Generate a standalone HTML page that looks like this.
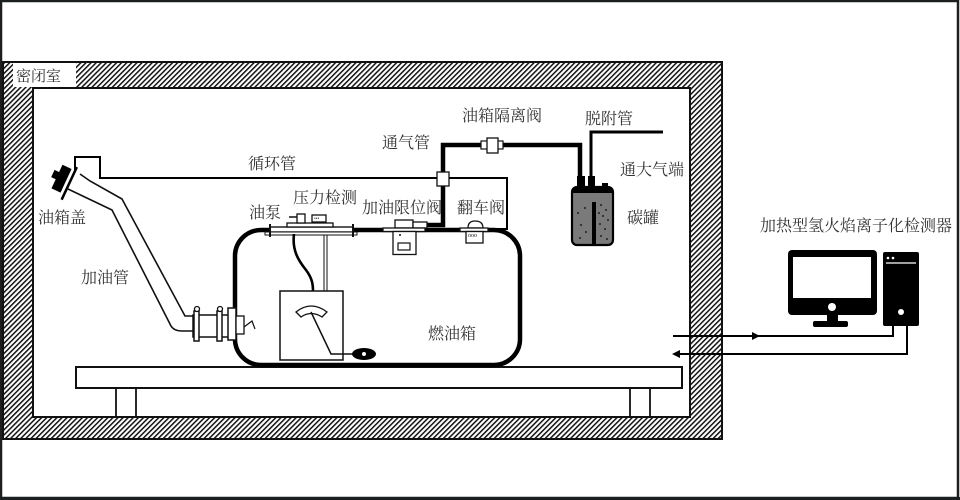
<!DOCTYPE html>
<html><head><meta charset="utf-8"><style>
html,body{margin:0;padding:0;background:#fff;}
svg{display:block;}
text{font-family:"Liberation Serif","Noto Serif CJK SC","Noto Sans CJK SC",serif;font-size:16px;fill:#333;}
</style></head><body>
<svg width="960" height="500" viewBox="0 0 960 500" xmlns="http://www.w3.org/2000/svg">
<defs>
<pattern id="h" width="3.6" height="3.6" patternUnits="userSpaceOnUse" patternTransform="rotate(45)">
<rect width="3.6" height="3.6" fill="#fff"/><rect width="1.5" height="3.6" fill="#111"/>
</pattern>
</defs>
<rect x="0" y="0" width="960" height="500" fill="#fff"/>
<!-- page frame -->
<rect x="1" y="1" width="957" height="497" fill="none" stroke="#1c1f1f" stroke-width="2.5"/>
<line x1="0" y1="498.5" x2="960" y2="498.5" stroke="#1c1f1f" stroke-width="3"/>

<!-- hatched room walls -->
<path d="M3,62 H722 V439 H3 Z M33,88 V417 H690 V88 Z" fill="url(#h)" fill-rule="evenodd"/>
<rect x="3" y="62" width="719" height="377" fill="none" stroke="#111" stroke-width="2"/>
<rect x="33" y="88" width="657" height="329" fill="none" stroke="#111" stroke-width="2"/>
<rect x="13" y="63" width="63" height="24" fill="#fff"/>
<text x="16" y="81" style="font-size:15px">密闭室</text>

<!-- table -->
<rect x="76" y="367" width="606" height="21" fill="#fff" stroke="#111" stroke-width="2"/>
<line x1="116" y1="388" x2="116" y2="417" stroke="#111" stroke-width="1.8"/>
<line x1="136" y1="388" x2="136" y2="417" stroke="#111" stroke-width="1.8"/>
<line x1="630" y1="388" x2="630" y2="417" stroke="#111" stroke-width="1.8"/>
<line x1="650" y1="388" x2="650" y2="417" stroke="#111" stroke-width="1.8"/>

<!-- fuel tank -->
<rect x="235" y="230" width="285" height="135" rx="26" ry="26" fill="#fff" stroke="#000" stroke-width="4.5"/>

<!-- filler pipe -->
<path d="M80,174 L90,181 L122,199 L185,316 L195,316" fill="none" stroke="#111" stroke-width="1.6"/>
<path d="M68,189 L112,210 L171,326 Q174,331 182,331 L195,331" fill="none" stroke="#111" stroke-width="1.6"/>
<!-- cap -->
<g transform="rotate(25 62 180)">
<rect x="56" y="166" width="10" height="26" fill="#000"/>
<rect x="51" y="174" width="6" height="8" fill="#000"/>
<line x1="70" y1="162" x2="70" y2="198" stroke="#000" stroke-width="2.5"/>
</g>
<!-- circulation riser & pipe -->
<path d="M75,172 V157 H100 V178 H507 V229 H488" fill="none" stroke="#000" stroke-width="2"/>

<!-- filler neck coupling -->
<rect x="193" y="315" width="36" height="22" fill="#fff" stroke="#111" stroke-width="1.5"/>
<rect x="194" y="311" width="5" height="30" fill="#fff" stroke="#111" stroke-width="1.5"/>
<rect x="217" y="311" width="5" height="30" fill="#fff" stroke="#111" stroke-width="1.5"/>
<circle cx="197" cy="309" r="2.5" fill="#fff" stroke="#111" stroke-width="1.3"/>
<circle cx="220" cy="309" r="2.5" fill="#fff" stroke="#111" stroke-width="1.3"/>
<rect x="228" y="308" width="8" height="32" fill="#fff" stroke="#111" stroke-width="1.5"/>
<rect x="236" y="316" width="8" height="18" fill="#fff" stroke="#111" stroke-width="1.3"/>
<path d="M244,327 L252,321 L255,329" fill="none" stroke="#111" stroke-width="1.2"/>

<!-- pump / pressure flange -->
<rect x="270" y="227" width="83" height="5" fill="#fff" stroke="#111" stroke-width="1.4"/>
<rect x="265" y="232" width="92" height="3" fill="#fff" stroke="#111" stroke-width="1"/>
<line x1="270" y1="224" x2="270" y2="237" stroke="#111" stroke-width="2"/>
<line x1="353" y1="224" x2="353" y2="237" stroke="#111" stroke-width="2"/>
<rect x="287" y="223" width="46" height="4" fill="#fff" stroke="#111" stroke-width="1.3"/>
<rect x="297" y="214" width="8" height="9" fill="#fff" stroke="#111" stroke-width="1.3"/>
<line x1="289" y1="217" x2="297" y2="217" stroke="#111" stroke-width="1.5"/>
<rect x="312" y="215" width="14" height="7" fill="#fff" stroke="#111" stroke-width="1.3"/>
<text x="314" y="220" style="font-size:5px;fill:#111">•••</text>
<!-- wire & rod -->
<path d="M294,234 C292,250 298,260 306,270 C312,278 313,284 313,291" fill="none" stroke="#000" stroke-width="2.6"/>
<line x1="324" y1="235" x2="324" y2="291" stroke="#111" stroke-width="1"/>
<line x1="327" y1="235" x2="327" y2="291" stroke="#111" stroke-width="1"/>
<!-- gauge box -->
<rect x="280" y="291" width="63" height="69" fill="#fff" stroke="#111" stroke-width="1.5"/>
<path d="M296,312 Q311,300 327,312 L322,317 Q311,310 301,317 Z" fill="#fff" stroke="#111" stroke-width="1.3"/>
<path d="M311,312 L331,354 H356" fill="none" stroke="#111" stroke-width="1.5"/>
<ellipse cx="364" cy="354" rx="12" ry="6" fill="#000"/>
<circle cx="364" cy="354" r="2" fill="#fff"/>

<!-- vent pipe -->
<path d="M413,225 H443 V145 H580 V180" fill="none" stroke="#000" stroke-width="4.5"/>
<rect x="437" y="172" width="12" height="14" fill="#fff" stroke="#111" stroke-width="1.3"/>
<rect x="481" y="141" width="22" height="8" fill="#fff" stroke="#111" stroke-width="1.2"/>
<rect x="487" y="138" width="11" height="15" fill="#fff" stroke="#111" stroke-width="1.3"/>
<!-- desorption pipe -->
<path d="M591,180 V132 H663" fill="none" stroke="#000" stroke-width="3"/>

<!-- fill limit valve -->
<rect x="395" y="220" width="18" height="8" fill="#fff" stroke="#111" stroke-width="1.3"/>
<rect x="413" y="222" width="14" height="6" fill="#fff" stroke="#111" stroke-width="1.3"/>
<rect x="383" y="228" width="42" height="3.5" fill="#fff" stroke="#111" stroke-width="1.3"/>
<rect x="393" y="231.5" width="23" height="23" fill="#fff" stroke="#111" stroke-width="1.3"/>
<rect x="398" y="243" width="12" height="7" fill="#fff" stroke="#111" stroke-width="1.2"/>
<circle cx="400" cy="235" r="1" fill="#111"/>

<!-- rollover valve -->
<path d="M468,228 Q468,221 475,221 Q483,221 483,228 Z" fill="#fff" stroke="#111" stroke-width="1.3"/>
<rect x="460" y="228" width="28" height="3.5" fill="#fff" stroke="#111" stroke-width="1.3"/>
<rect x="466" y="231.5" width="17" height="11.5" fill="#fff" stroke="#111" stroke-width="1.3"/>
<text x="468" y="237" style="font-size:6px;fill:#111">ooo</text>

<!-- canister -->
<rect x="577" y="176" width="8" height="12" fill="#000"/>
<rect x="588" y="176" width="7" height="12" fill="#000"/>
<rect x="602" y="183" width="6" height="6" fill="#000"/>
<rect x="572" y="187" width="41" height="58" rx="5" ry="5" fill="#7a7a7a" stroke="#000" stroke-width="2.2"/>
<rect x="573" y="188" width="39" height="5" fill="#000"/>
<rect x="592" y="202" width="4" height="43" fill="#000"/>
<g fill="#222">
<circle cx="578" cy="213" r="1"/><circle cx="585" cy="208" r="1"/><circle cx="581" cy="225" r="1"/>
<circle cx="586" cy="232" r="1"/><circle cx="580" cy="238" r="1"/><circle cx="601" cy="205" r="1"/>
<circle cx="606" cy="210" r="1"/><circle cx="603" cy="216" r="1"/><circle cx="608" cy="220" r="1"/>
<circle cx="600" cy="224" r="1"/><circle cx="605" cy="229" r="1"/><circle cx="601" cy="236" r="1"/>
<circle cx="607" cy="239" r="1"/><circle cx="599" cy="213" r="1"/>
</g>

<!-- labels -->
<text x="248" y="169">循环管</text>
<text x="38" y="223">油箱盖</text>
<text x="81" y="283">加油管</text>
<text x="249" y="218">油泵</text>
<text x="293" y="203">压力检测</text>
<text x="362" y="213">加油限位阀</text>
<text x="457" y="213">翻车阀</text>
<text x="382" y="148">通气管</text>
<text x="462" y="121">油箱隔离阀</text>
<text x="585" y="124">脱附管</text>
<text x="620" y="175">通大气端</text>
<text x="627" y="223">碳罐</text>
<text x="428" y="339">燃油箱</text>
<text x="760" y="231">加热型氢火焰离子化检测器</text>

<!-- computer -->
<rect x="788" y="250" width="89" height="65" rx="4" ry="4" fill="#000"/>
<rect x="793" y="257" width="78" height="41" fill="#fff"/>
<circle cx="832" cy="307" r="4" fill="#fff"/>
<rect x="827" y="315" width="11" height="7" fill="#000"/>
<rect x="813" y="321" width="35" height="6" rx="2" fill="#000"/>
<rect x="883" y="252" width="36" height="74" rx="2" fill="#000"/>
<circle cx="888" cy="258" r="1.3" fill="#fff"/><circle cx="893" cy="258" r="1.3" fill="#fff"/>
<line x1="886" y1="263" x2="916" y2="263" stroke="#fff" stroke-width="1.3"/>
<circle cx="901" cy="312" r="3" fill="#fff"/>

<!-- signal lines -->
<path d="M673,336 H893 V326" fill="none" stroke="#000" stroke-width="2"/>
<path d="M752,332 L760,336 L752,340 Z" fill="#000"/>
<path d="M677,354 H907 V326" fill="none" stroke="#000" stroke-width="2"/>
<path d="M680,350 L672,354 L680,358 Z" fill="#000"/>
</svg>
</body></html>
